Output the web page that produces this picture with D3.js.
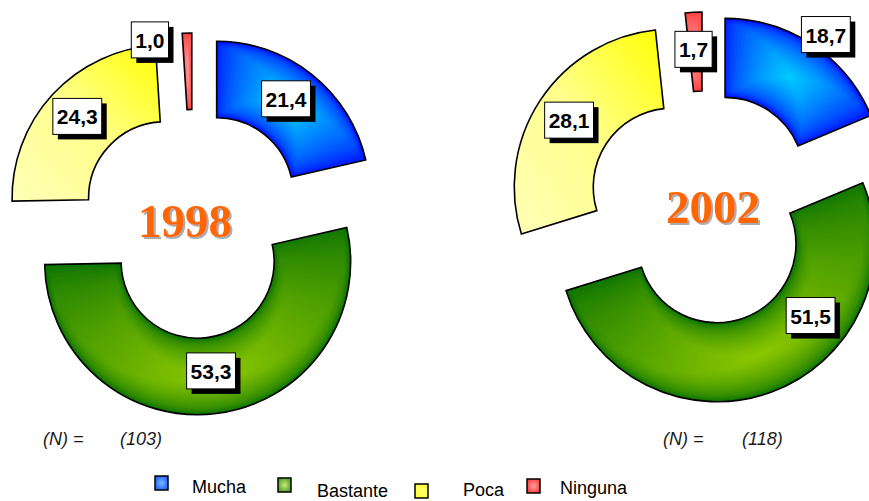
<!DOCTYPE html>
<html>
<head>
<meta charset="utf-8">
<script src="https://cdnjs.cloudflare.com/ajax/libs/d3/7.8.5/d3.min.js"></script>
<style>
  body { margin: 0; background: #fff; }
  svg { display: block; }
</style>
</head>
<body>
<div id="chart"></div>
<script>

// data
var categories = ['Mucha', 'Bastante', 'Poca', 'Ninguna'];
var years = ['1998', '2002'];
var values1998 = [21.4, 53.3, 24.3, 1.0];
var values2002 = [18.7, 51.5, 28.1, 1.7];
var sampleSizes = ['(103)', '(118)'];

// layout of each donut (positions only)
var layouts = [
  { cx: 193, cy: 224, outer: 153, inner: 76.5, explode: 38,
    yearX: 185, yearY: 237, nX: 43, nValX: 120, nY: 445,
    labelAngle: [36, 173, 313, 344], labelDist: [118, 110, 120, 152] },
  { cx: 704, cy: 208, outer: 158, inner: 79, explode: 38,
    yearX: 713, yearY: 223, nX: 663, nValX: 742, nY: 445,
    labelAngle: [35.4, 127.5, 303, 356], labelDist: [174, 118, 123, 121] }
];

// legend placement
var legendPos = [
  { sx: 155, sy: 476, tx: 192, ty: 493 },
  { sx: 278, sy: 478, tx: 317, ty: 497 },
  { sx: 415, sy: 484, tx: 463, ty: 496 },
  { sx: 527, sy: 479, tx: 560, ty: 494 }
];

// slice shading: edge colour -> centre colour
var sliceColors = [
  { edge: '#0010ff', center: '#00ccff', gamma: 0.6 },
  { edge: '#0a7200', center: '#8cc800', gamma: 0.6 },
  null, // yellow uses a linear gradient
  { edge: '#ff4040', center: '#ff9c9c', gamma: 0.8 }
];

var svg = d3.select('#chart').append('svg')
  .attr('width', 869)
  .attr('height', 501);

var defs = svg.append('defs');

// yellow linear gradient
var yl = defs.append('linearGradient').attr('id', 'yellowGrad')
  .attr('x1', 0).attr('y1', 1).attr('x2', 1).attr('y2', 0);
yl.append('stop').attr('offset', 0).attr('stop-color', '#ffffb8');
yl.append('stop').attr('offset', 0.5).attr('stop-color', '#ffff8c');
yl.append('stop').attr('offset', 1).attr('stop-color', '#ffff00');

// soft grey shadow for the year titles
var shadow = defs.append('filter').attr('id', 'yearShadow')
  .attr('x', '-10%').attr('y', '-10%').attr('width', '130%').attr('height', '130%');
shadow.append('feDropShadow')
  .attr('dx', 2).attr('dy', 2).attr('stdDeviation', 0.6)
  .attr('flood-color', '#999').attr('flood-opacity', 0.8);

var pie = d3.pie().sort(null).value(function (d) { return d; });

var slicesLayer = svg.append('g').attr('class', 'slices');
var labelsLayer = svg.append('g').attr('class', 'labels');

var allValues = [values1998, values2002];

allValues.forEach(function (values, ci) {
  var lay = layouts[ci];
  var arcs = pie(values);
  var arc = d3.arc().innerRadius(lay.inner).outerRadius(lay.outer);

  arcs.forEach(function (d, si) {
    var mid = (d.startAngle + d.endAngle) / 2;
    var ox = lay.cx + Math.sin(mid) * lay.explode;
    var oy = lay.cy - Math.cos(mid) * lay.explode;

    var g = slicesLayer.append('g').attr('transform', 'translate(' + ox + ',' + oy + ')');

    if (sliceColors[si]) {
      // path-like gradient built from thin segments
      var sc = sliceColors[si];
      var span = d.endAngle - d.startAngle;
      var n = Math.max(4, Math.ceil(span / (Math.PI / 120)));
      var step = span / n;
      var interp = d3.interpolateRgb(sc.edge, sc.center);
      var pad = step * 0.4;
      for (var i = 0; i < n; i++) {
        var a0 = d.startAngle + i * step;
        var a1 = a0 + step;
        var am = (a0 + a1) / 2;
        var e = 1 - Math.abs(am - mid) / (span / 2);
        var id = 'g' + ci + '_' + si + '_' + i;
        var grad = defs.append('radialGradient').attr('id', id)
          .attr('gradientUnits', 'userSpaceOnUse')
          .attr('cx', 0).attr('cy', 0).attr('r', lay.outer);
        for (var k = 0; k <= 12; k++) {
          var u = k / 12;
          var rad = 1 - Math.abs(2 * u - 1);
          var v = Math.pow(Math.min(e, rad), sc.gamma);
          grad.append('stop')
            .attr('offset', (lay.inner + u * (lay.outer - lay.inner)) / lay.outer)
            .attr('stop-color', interp(v));
        }
        g.append('path')
          .attr('d', arc({ startAngle: Math.max(d.startAngle, a0 - pad), endAngle: Math.min(d.endAngle, a1 + pad) }))
          .attr('fill', 'url(#' + id + ')');
      }
    } else {
      g.append('path').attr('d', arc(d)).attr('fill', 'url(#yellowGrad)');
    }

    // outline
    g.append('path')
      .attr('d', arc(d))
      .attr('fill', 'none')
      .attr('stroke', '#000')
      .attr('stroke-width', 1.6);

    // value label
    var la = lay.labelAngle[si] * Math.PI / 180;
    var lx = ox + Math.sin(la) * lay.labelDist[si];
    var ly = oy - Math.cos(la) * lay.labelDist[si];
    var lg = labelsLayer.append('g').attr('transform', 'translate(' + lx + ',' + ly + ')');
    var txt = lg.append('text')
      .attr('text-anchor', 'middle')
      .attr('y', 8)
      .attr('font-family', 'Liberation Sans, Arial, sans-serif')
      .attr('font-weight', 'bold')
      .attr('font-size', 21)
      .attr('fill', '#000')
      .text(d.data.toFixed(1).replace('.', ','));
    var w = txt.node().getComputedTextLength() + 8;
    var h = 36;
    lg.insert('rect', 'text')
      .attr('x', -w / 2 + 5).attr('y', -h / 2 + 5)
      .attr('width', w).attr('height', h)
      .attr('fill', '#000');
    lg.insert('rect', 'text')
      .attr('x', -w / 2).attr('y', -h / 2)
      .attr('width', w).attr('height', h)
      .attr('fill', '#fff')
      .attr('stroke', '#000')
      .attr('stroke-width', 1);
  });

  // year title
  labelsLayer.append('text')
    .attr('x', lay.yearX).attr('y', lay.yearY)
    .attr('text-anchor', 'middle')
    .attr('font-family', 'Liberation Serif, Times New Roman, serif')
    .attr('font-weight', 'bold')
    .attr('font-size', 47)
    .attr('fill', '#ff6600')
    .attr('filter', 'url(#yearShadow)')
    .text(years[ci]);

  // sample size
  svg.append('text')
    .attr('x', lay.nX).attr('y', lay.nY)
    .attr('font-family', 'Liberation Sans, Arial, sans-serif')
    .attr('font-style', 'italic')
    .attr('font-size', 18)
    .attr('fill', '#1a1a1a')
    .text('(N) =');
  svg.append('text')
    .attr('x', lay.nValX).attr('y', lay.nY)
    .attr('font-family', 'Liberation Sans, Arial, sans-serif')
    .attr('font-style', 'italic')
    .attr('font-size', 18)
    .attr('fill', '#1a1a1a')
    .text(sampleSizes[ci]);
});

// legend
var legendFill = [
  ['#7ab8ff', '#2a6cff'],
  ['#c8ec70', '#5aa830'],
  ['#ffff70', '#ffff40'],
  ['#ffa0a0', '#ff4848']
];
var legend = svg.append('g').attr('class', 'legend');
categories.forEach(function (c, i) {
  var p = legendPos[i];
  var gid = 'leg' + i;
  var lg = defs.append('radialGradient').attr('id', gid);
  lg.append('stop').attr('offset', 0).attr('stop-color', legendFill[i][0]);
  lg.append('stop').attr('offset', 1).attr('stop-color', legendFill[i][1]);
  legend.append('rect')
    .attr('x', p.sx).attr('y', p.sy)
    .attr('width', 13).attr('height', 14)
    .attr('fill', 'url(#' + gid + ')')
    .attr('stroke', '#000')
    .attr('stroke-width', 1.5);
  legend.append('text')
    .attr('x', p.tx).attr('y', p.ty)
    .attr('font-family', 'Liberation Sans, Arial, sans-serif')
    .attr('font-size', 18)
    .attr('fill', '#000')
    .text(c);
});

</script>
</body>
</html>
